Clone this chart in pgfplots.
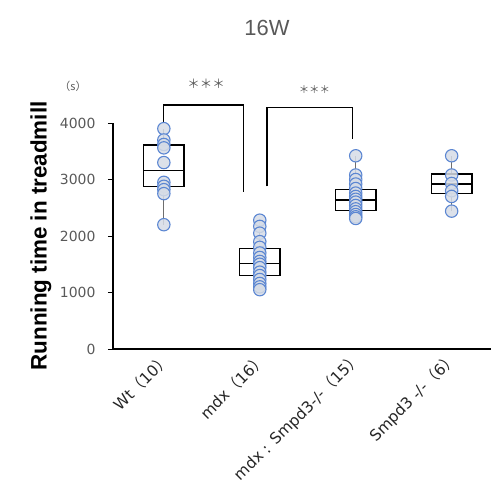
\documentclass[border=0pt]{standalone}
\usepackage{fontspec}
\setmainfont{Liberation Sans}
\newfontfamily\cjk{Noto Sans CJK JP}
\newfontfamily\dv{DejaVu Sans}
\usepackage{pgfplots}
\pgfplotsset{compat=1.18}
\definecolor{tickgray}{RGB}{89,89,89}
\definecolor{ptfill}{RGB}{214,220,230}
\definecolor{ptedge}{RGB}{91,134,210}
\definecolor{whisk}{RGB}{110,110,110}

\begin{document}
\begin{tikzpicture}
\begin{axis}[
  name=ax, at={(0,0)}, anchor=south west,
  scale only axis, width=378bp, height=226bp,
  xmin=-0.53, xmax=3.41, ymin=0, ymax=4000,
  clip=false,
  axis x line*=bottom, axis y line*=left,
  axis line style={line width=1.4pt, black},
  ytick={0,1000,2000,3000,4000},
  xtick={0,1,2,3},
  xticklabels={{Wt{\cjk（}10{\cjk）}}, {mdx{\cjk（}16{\cjk）}}, {mdx : Smpd3-/-{\cjk（}15{\cjk）}}, {Smpd3 -/-{\cjk（}6{\cjk）}}},
  xtick style={draw=none},
  ytick style={line width=1pt, black},
  tick align=outside, major tick length=5bp,
  yticklabel style={font=\dv\fontsize{14}{14}\selectfont, color=tickgray, xshift=-9bp},
  xticklabel style={font=\dv\fontsize{15.5}{15.5}\selectfont, text=black!85, rotate=45, anchor=east, xshift=4bp, yshift=-4bp},
  /pgf/number format/assume math mode=true,
  /pgf/number format/1000 sep={},
  whisker/.style={draw=whisk, line width=1.2pt, forget plot},
  box/.style={draw=black, line width=1.4pt, fill=white, forget plot},
  med/.style={draw=black, line width=1.4pt, forget plot},
]
% whiskers (min to max)
\addplot[whisker] coordinates {(0,2200)(0,3900)};
\addplot[whisker] coordinates {(1,1050)(1,2290)};
\addplot[whisker] coordinates {(2,2320)(2,3420)};
\addplot[whisker] coordinates {(3,2440)(3,3420)};
% boxes (quartiles)
\addplot[box] coordinates {(-0.21,2880)(0.21,2880)(0.21,3610)(-0.21,3610)} -- cycle;
\addplot[box] coordinates {(0.79,1298)(1.21,1298)(1.21,1782)(0.79,1782)} -- cycle;
\addplot[box] coordinates {(1.79,2448)(2.21,2448)(2.21,2826)(1.79,2826)} -- cycle;
\addplot[box] coordinates {(2.79,2755)(3.21,2755)(3.21,3097)(2.79,3097)} -- cycle;
% medians
\addplot[med] coordinates {(-0.21,3155)(0.21,3155)};
\addplot[med] coordinates {(0.79,1518)(1.21,1518)};
\addplot[med] coordinates {(1.79,2637)(2.21,2637)};
\addplot[med] coordinates {(2.79,2920)(3.21,2920)};
% individual points
\addplot[only marks, mark=*, mark size=6.2bp,
  mark options={fill=ptfill, draw=ptedge, line width=1.1pt, fill opacity=0.85}]
  coordinates {
  (0,3900)(0,3700)(0,3620)(0,3560)(0,3300)(0,2950)(0,2880)(0,2820)(0,2750)(0,2200)
  (1,2280)(1,2170)(1,2050)(1,1900)(1,1800)(1,1700)(1,1620)(1,1550)(1,1500)(1,1440)
  (1,1360)(1,1300)(1,1230)(1,1160)(1,1100)(1,1050)
  (2,3420)(2,3080)(2,3000)(2,2920)(2,2840)(2,2760)(2,2700)(2,2650)(2,2600)(2,2540)
  (2,2480)(2,2430)(2,2380)(2,2340)(2,2310)
  (3,3420)(3,3080)(3,2930)(3,2800)(3,2700)(3,2440)
  };
% significance brackets
\draw[line width=1.3pt, black] (axis cs:0,4000) -- (axis cs:0,4318) -- (axis cs:0.833,4318) -- (axis cs:0.833,2785);
\draw[line width=1.3pt, black] (axis cs:1.076,2878) -- (axis cs:1.076,4275) -- (axis cs:1.97,4275) -- (axis cs:1.97,3720);
\node[font=\cjk\fontsize{12.5}{12.5}\selectfont, text=tickgray] at (axis cs:0.44,4700) {＊＊＊};
\node[font=\cjk\fontsize{10.5}{10.5}\selectfont, text=tickgray] at (axis cs:1.57,4595) {＊＊＊};
\end{axis}
\node[font=\fontsize{22}{22}\selectfont, text=tickgray] at (154bp,321bp) {16W};
\node[font=\fontsize{11}{11}\selectfont, text=tickgray] at (-40bp,263bp) {\cjk（s）};
\node[font=\bfseries\fontsize{22.5}{22.5}\selectfont, rotate=90] at (-72bp,113bp) {Running time in treadmill};
\pgfresetboundingbox
\path[use as bounding box] (-113bp,-148bp) rectangle (378bp,349bp);
\end{tikzpicture}
\end{document}
